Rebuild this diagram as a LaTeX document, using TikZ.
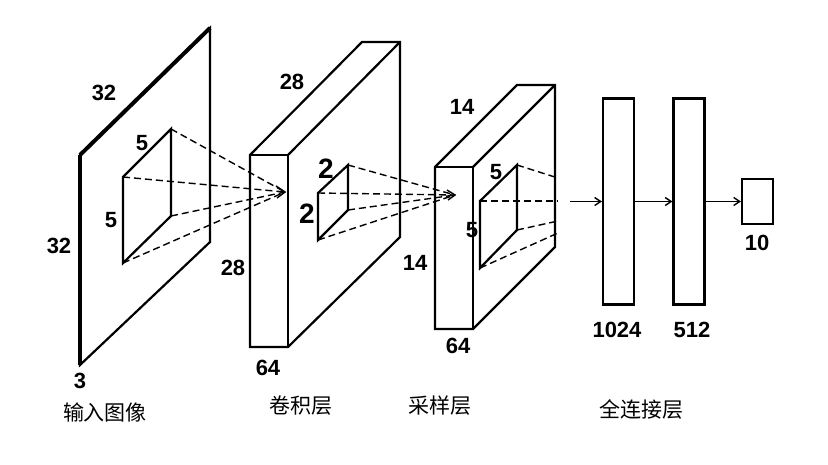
\documentclass[tikz,border=0pt]{standalone}
\usepackage{fontspec}
\setmainfont{Liberation Sans}
\newfontfamily\cjk{Noto Sans CJK SC}
\usetikzlibrary{arrows.meta}
\begin{document}
\begin{tikzpicture}[x=1pt,y=-1pt,line join=miter,
  edge/.style={line width=2.2pt},
  dsh/.style={line width=1.4pt,dash pattern=on 7pt off 4pt},
  lab/.style={font=\fontsize{22}{22}\selectfont\bfseries,inner sep=0pt},
  cn/.style={font=\fontsize{21}{21}\selectfont\cjk,inner sep=0pt},
  arr/.style={line width=1.4pt,-{Straight Barb[length=6pt,width=8pt]}},
  box/.style={draw,line width=2.2pt,minimum width=31pt,inner sep=0pt}]
\useasboundingbox (0,0) rectangle (828,464);
% input plane
\coordinate (a1) at (80,155); \coordinate (a2) at (210,28);
\coordinate (a3) at (210,242); \coordinate (a4) at (80,365);
\draw[edge] (a1)--(a2)--(a3)--(a4)--cycle;
\draw[line width=4pt] (a1)--(a2);
\draw[line width=3.5pt] (a1)--(a4);
\coordinate (s1) at (123,177); \coordinate (s2) at (171,129);
\coordinate (s3) at (171,216); \coordinate (s4) at (123,263);
\draw[edge] (s1)--(s2)--(s3)--(s4)--cycle;
% conv block
\coordinate (c1) at (250,155); \coordinate (c2) at (288,155);
\coordinate (c3) at (288,347); \coordinate (c4) at (250,347);
\coordinate (c5) at (362,42); \coordinate (c6) at (400,42); \coordinate (c7) at (400,237);
\draw[edge,fill=white] (c1)--(c5)--(c6)--(c7)--(c3)--(c4)--cycle;
\draw[edge] (c1) rectangle (c3);
\draw[edge] (c2)--(c6);
\coordinate (t1) at (318,193); \coordinate (t2) at (348,165);
\coordinate (t3) at (348,210); \coordinate (t4) at (318,240);
\draw[edge] (t1)--(t2)--(t3)--(t4)--cycle;
\coordinate (f1) at (285,192);
\foreach \c in {s1,s2,s3,s4} \draw[dsh] (\c)--(f1);
\draw[line width=1.4pt] (276,186)--(f1)--(277,198);
% pool block
\coordinate (p1) at (435,167); \coordinate (p2) at (473,167);
\coordinate (p3) at (473,329); \coordinate (p4) at (435,329);
\coordinate (p5) at (517,85); \coordinate (p6) at (555,85); \coordinate (p7) at (555,247);
\draw[edge,fill=white] (p1)--(p5)--(p6)--(p7)--(p3)--(p4)--cycle;
\draw[edge] (p1) rectangle (p3);
\draw[edge] (p2)--(p6);
\coordinate (f2) at (455,195);
\foreach \c in {t1,t2,t3,t4} \draw[dsh] (\c)--(f2);
\draw[line width=1.4pt] (447,190)--(f2)--(448,200);
\coordinate (u1) at (480,201); \coordinate (u2) at (517,165);
\coordinate (u3) at (517,230); \coordinate (u4) at (480,268);
\draw[edge] (u1)--(u2)--(u3)--(u4)--cycle;
\coordinate (e2) at (558,178); \coordinate (e1) at (558,201);
\coordinate (e3) at (558,221); \coordinate (e4) at (558,233);
\foreach \i in {1,2,3,4} \draw[dsh] (u\i)--(e\i);
% fully connected
\node[box,minimum height=206pt] (fc1) at (618.5,201.5) {};
\node[box,minimum height=206pt] (fc2) at (689,201.5) {};
\node[box,minimum height=45pt] (out) at (757.5,201.5) {};
\coordinate (fin) at (570,201.5);
\draw[arr] (fin)--(fc1.west);
\draw[arr] (fc1.east)--(fc2.west);
\draw[arr] (fc2.east)--(out.west);
% labels
\node[lab] at (104,93) {32};
\node[lab] at (142,143) {5};
\node[lab] at (111,220) {5};
\node[lab] at (59,246) {32};
\node[lab] at (80,381) {3};
\node[lab] at (292,82) {28};
\node[lab,font=\fontsize{28}{28}\selectfont\bfseries] at (326,169) {2};
\node[lab,font=\fontsize{28}{28}\selectfont\bfseries] at (307,214) {2};
\node[lab] at (233,268) {28};
\node[lab] at (268,368) {64};
\node[lab] at (462,107) {14};
\node[lab] at (496,172) {5};
\node[lab] at (472,230) {5};
\node[lab] at (415,263) {14};
\node[lab] at (458,346) {64};
\node[lab] at (617,330) {1024};
\node[lab] at (692,330) {512};
\node[lab] at (757,243) {10};
\node[cn] at (105,412) {输入图像};
\node[cn] at (301,406) {卷积层};
\node[cn] at (440,406) {采样层};
\node[cn] at (641,409) {全连接层};
\end{tikzpicture}
\end{document}
